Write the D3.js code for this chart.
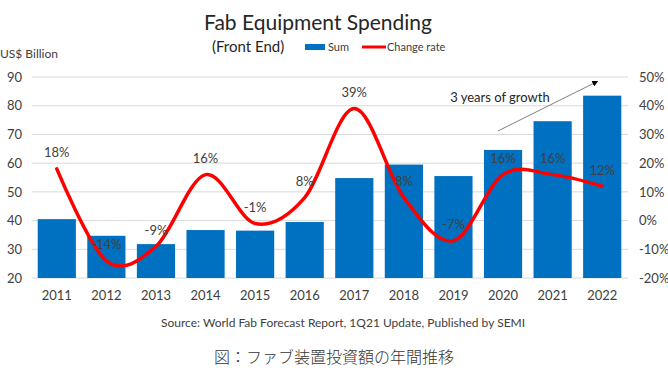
<!DOCTYPE html>
<html>
<head>
<meta charset="utf-8">
<script src="https://cdn.jsdelivr.net/npm/d3@7"></script>
<style>
  body { margin: 0; background: #fff; }
  svg { display: block; font-family: Lato, "Open Sans", sans-serif; }
</style>
</head>
<body>
<div id="chart"></div>
<script>
const years = ["2011", "2012", "2013", "2014", "2015", "2016", "2017", "2018", "2019", "2020", "2021", "2022"]
const spending = [40.5, 34.7, 31.8, 36.7, 36.5, 39.5, 54.8, 59.5, 55.5, 64.6, 74.6, 83.5]
const changeRate = [18, -14, -9, 16, -1, 8, 39, 8, -7, 16, 16, 12]
const leftTicks = [20, 30, 40, 50, 60, 70, 80, 90]
const rightTicks = [-20, -10, 0, 10, 20, 30, 40, 50]

const W = 668, H = 381
const MARGIN = { TOP: 77, BOTTOM: 103, LEFT: 32, RIGHT: 41 }
const TEXT = "#404040"

const svg = d3.select("#chart").append("svg")
  .attr("width", W).attr("height", H)

const x = d3.scaleBand()
  .domain(years)
  .range([MARGIN.LEFT, W - MARGIN.RIGHT])
  .paddingInner(0.23)
  .paddingOuter(0.115)

const y = d3.scaleLinear().domain([20, 90]).range([H - MARGIN.BOTTOM, MARGIN.TOP])
const y2 = d3.scaleLinear().domain([-20, 50]).range([H - MARGIN.BOTTOM, MARGIN.TOP])

// gridlines
svg.append("g").selectAll("line")
  .data(leftTicks)
  .join("line")
  .attr("x1", MARGIN.LEFT).attr("x2", W - MARGIN.RIGHT + 1)
  .attr("y1", d => y(d)).attr("y2", d => y(d))
  .attr("stroke", "#d9d9d9").attr("stroke-width", 1)

// left axis
const yAxis = svg.append("g")
  .attr("transform", `translate(${MARGIN.LEFT - 10},0)`)
  .call(d3.axisLeft(y).tickValues(leftTicks).tickSize(0).tickPadding(0))
yAxis.select(".domain").remove()
yAxis.selectAll("text").attr("fill", TEXT).style("font-size", "13px").style("font-family", "Lato")

// right axis
const y2Axis = svg.append("g")
  .attr("transform", `translate(${W - MARGIN.RIGHT + 12},0)`)
  .call(d3.axisRight(y2).tickValues(rightTicks).tickSize(0).tickPadding(0).tickFormat(d => d + "%"))
y2Axis.select(".domain").remove()
y2Axis.selectAll("text").attr("fill", TEXT).style("font-size", "13px").style("font-family", "Lato")

// x axis
const xAxis = svg.append("g")
  .attr("transform", `translate(0,${H - MARGIN.BOTTOM + 12})`)
  .call(d3.axisBottom(x).tickSize(0).tickPadding(0))
xAxis.select(".domain").remove()
xAxis.selectAll("text").attr("fill", TEXT).attr("dy", "0.75em").style("font-size", "13px").style("font-family", "Lato")

// bars
svg.append("g").selectAll("rect")
  .data(years)
  .join("rect")
  .attr("x", d => x(d))
  .attr("width", x.bandwidth())
  .attr("y", (d, i) => y(spending[i]))
  .attr("height", (d, i) => y(20) - y(spending[i]))
  .attr("fill", "#0070c0")

// change rate line
const line = d3.line()
  .x((d, i) => x(years[i]) + x.bandwidth() / 2)
  .y(d => y2(d))
  .curve(d3.curveCardinal.tension(0))

svg.append("path")
  .datum(changeRate)
  .attr("d", line)
  .attr("fill", "none")
  .attr("stroke", "#ff0000")
  .attr("stroke-width", 3.5)
  .attr("stroke-linecap", "round")

// data labels
svg.append("g").selectAll("text")
  .data(changeRate)
  .join("text")
  .attr("x", (d, i) => x(years[i]) + x.bandwidth() / 2)
  .attr("y", d => y2(d) - 16)
  .attr("dy", "0.35em")
  .attr("text-anchor", "middle")
  .attr("fill", TEXT)
  .style("font-size", "13px")
  .text(d => d + "%")

// annotation arrow
const defs = svg.append("defs")
defs.append("marker")
  .attr("id", "head")
  .attr("viewBox", "0 0 10 10")
  .attr("refX", 8).attr("refY", 5)
  .attr("markerWidth", 6).attr("markerHeight", 6)
  .attr("orient", "auto")
  .append("path")
  .attr("d", "M0,0 L10,5 L0,10 Z")
  .attr("fill", "#000")

svg.append("line")
  .attr("x1", x("2020") + 14).attr("y1", y(71.2))
  .attr("x2", x("2022") + 14).attr("y2", y(88.4))
  .attr("stroke", "#808080").attr("stroke-width", 1)
  .attr("marker-end", "url(#head)")

svg.append("text")
  .attr("x", x("2020") + 16).attr("y", y(83))
  .attr("dy", "0.35em")
  .attr("text-anchor", "middle")
  .attr("fill", "#262626")
  .style("font-size", "13px")
  .text("3 years of growth")

// titles
svg.append("text")
  .attr("x", 318).attr("y", 30)
  .attr("text-anchor", "middle")
  .attr("fill", "#262626")
  .style("font-size", "21px")
  .text("Fab Equipment Spending")

svg.append("text")
  .attr("x", 212).attr("y", 52)
  .attr("fill", "#262626")
  .style("font-size", "15px")
  .text("(Front End)")

svg.append("text")
  .attr("x", 0).attr("y", 58)
  .attr("fill", TEXT)
  .style("font-size", "12px")
  .text("US$ Billion")

// legend
const legend = svg.append("g").attr("transform", "translate(305,47)")
legend.append("rect").attr("x", 0).attr("y", -3).attr("width", 20).attr("height", 6).attr("fill", "#0070c0")
legend.append("text").attr("x", 23).attr("y", 0).attr("dy", "0.35em").attr("fill", TEXT).style("font-size", "11px").text("Sum")
legend.append("line").attr("x1", 57).attr("x2", 81).attr("y1", 0).attr("y2", 0).attr("stroke", "#ff0000").attr("stroke-width", 3)
legend.append("text").attr("x", 82).attr("y", 0).attr("dy", "0.35em").attr("fill", TEXT).style("font-size", "11px").text("Change rate")

// source
svg.append("text")
  .attr("x", 343).attr("y", 323)
  .attr("dy", "0.35em")
  .attr("text-anchor", "middle")
  .attr("fill", TEXT)
  .style("font-size", "12px")
  .text("Source: World Fab Forecast Report, 1Q21 Update, Published by SEMI")

// caption
svg.append("text")
  .attr("x", 334).attr("y", 357)
  .attr("dy", "0.35em")
  .attr("text-anchor", "middle")
  .attr("fill", "#333")
  .style("font-family", "'Noto Sans CJK JP'")
  .style("font-size", "16px")
  .style("font-weight", 300)
  .text("図：ファブ装置投資額の年間推移")
</script>
</body>
</html>
